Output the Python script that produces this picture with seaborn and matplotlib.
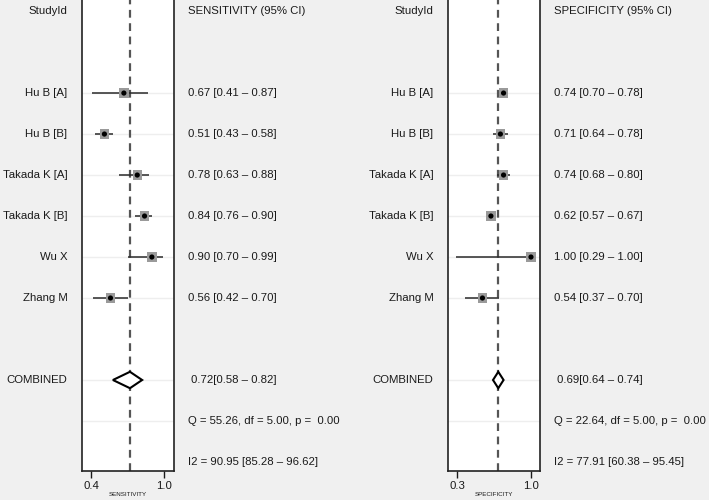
import matplotlib
matplotlib.use("Agg")
from matplotlib import pyplot as plt
import pandas as pd
import seaborn as sns

# study data
studies = ["Hu B [A]", "Hu B [B]", "Takada K [A]", "Takada K [B]", "Wu X", "Zhang M"]

sens = [0.67, 0.51, 0.78, 0.84, 0.90, 0.56]
sens_lo = [0.41, 0.43, 0.63, 0.76, 0.70, 0.42]
sens_hi = [0.87, 0.58, 0.88, 0.90, 0.99, 0.70]
sens_comb = [0.72, 0.58, 0.82]
sens_q = "Q = 55.26, df = 5.00, p =  0.00"
sens_i2 = "I2 = 90.95 [85.28 \u2013 96.62]"

spec = [0.74, 0.71, 0.74, 0.62, 1.00, 0.54]
spec_lo = [0.70, 0.64, 0.68, 0.57, 0.29, 0.37]
spec_hi = [0.78, 0.78, 0.80, 0.67, 1.00, 0.70]
spec_comb = [0.69, 0.64, 0.74]
spec_q = "Q = 22.64, df = 5.00, p =  0.00"
spec_i2 = "I2 = 77.91 [60.38 \u2013 95.45]"

sns.set_theme(style="white")
plt.rcParams['font.family'] = ['Liberation Sans', 'DejaVu Sans']

BG = "#f0f0f0"
FS = 8.2
TXT = "#1a1a1a"

# row layout (inverted y): header, blank, studies, blank, combined, Q, I2
study_rows = list(range(2, 2 + len(studies)))
comb_row = study_rows[-1] + 2
q_row = comb_row + 1
i2_row = comb_row + 2


def forest_panel(ax, est, lo, hi, comb, q_txt, i2_txt, xlim, ticks, title, xlabel):
    frame = pd.DataFrame({"study": studies, "est": est, "lo": lo, "hi": hi, "row": study_rows})

    ax.set_facecolor("white")
    ax.set_xlim(*xlim)
    ax.set_ylim(i2_row + 0.22, -0.27)

    # faint row lines
    for r in study_rows + [comb_row, q_row]:
        ax.axhline(r, color="#eeeeee", lw=1.0, zorder=0)

    # pooled estimate reference line
    ax.axvline(comb[0], color="#555555", lw=1.6, ls=(0, (3.5, 2.5)), zorder=1)

    # confidence intervals and point estimates
    ax.hlines(frame["row"], frame["lo"], frame["hi"], color="#2a2a2a", lw=1.1, zorder=2)
    sns.scatterplot(data=frame, x="est", y="row", marker="s", s=46, color="#9a9a9a",
                    edgecolor="none", ax=ax, zorder=3, legend=False)
    sns.scatterplot(data=frame, x="est", y="row", marker="o", s=14, color="black",
                    edgecolor="none", ax=ax, zorder=4, legend=False)

    # combined diamond
    h = 0.2
    ax.fill([comb[1], comb[0], comb[2], comb[0], comb[1]],
            [comb_row, comb_row - h, comb_row, comb_row + h, comb_row],
            facecolor="white", edgecolor="black", lw=1.5, zorder=4)

    # text columns
    tr = ax.get_yaxis_transform()
    kw = dict(transform=tr, va="center", fontsize=FS, color=TXT)
    ax.text(-0.16, 0, "StudyId", ha="right", **kw)
    ax.text(1.15, 0, title, ha="left", **kw)
    for s, e, l, u, r in zip(studies, est, lo, hi, study_rows):
        ax.text(-0.16, r, s, ha="right", **kw)
        ax.text(1.15, r, "%.2f [%.2f \u2013 %.2f]" % (e, l, u), ha="left", **kw)
    ax.text(-0.16, comb_row, "COMBINED", ha="right", **kw)
    ax.text(1.18, comb_row, "%.2f[%.2f \u2013 %.2f]" % tuple(comb), ha="left", **kw)
    ax.text(1.15, q_row, q_txt, ha="left", **kw)
    ax.text(1.15, i2_row, i2_txt, ha="left", **kw)

    # axes styling
    ax.set_yticks([])
    ax.set_ylabel("")
    ax.set_xticks(ticks)
    ax.set_xticklabels(["%.1f" % t for t in ticks])
    ax.tick_params(axis="x", bottom=True, length=5, width=1.0, labelsize=FS, pad=2, colors=TXT)
    ax.set_xlabel(xlabel, fontsize=4.5, labelpad=1, color=TXT)
    ax.spines["top"].set_visible(False)
    for side in ["left", "right", "bottom"]:
        ax.spines[side].set_color("#222222")
        ax.spines[side].set_linewidth(1.2)


fig = plt.figure(figsize=(7.09, 5.0), dpi=100)
fig.patch.set_facecolor(BG)
ax1 = fig.add_axes([0.1157, 0.058, 0.1297, 0.942])
ax2 = fig.add_axes([0.632, 0.058, 0.1297, 0.942])

forest_panel(ax1, sens, sens_lo, sens_hi, sens_comb, sens_q, sens_i2,
             (0.326, 1.082), [0.4, 1.0], "SENSITIVITY (95% CI)", "SENSITIVITY")
forest_panel(ax2, spec, spec_lo, spec_hi, spec_comb, spec_q, spec_i2,
             (0.214, 1.086), [0.3, 1.0], "SPECIFICITY (95% CI)", "SPECIFICITY")

fig.savefig("out.png", dpi=100, facecolor=BG)
